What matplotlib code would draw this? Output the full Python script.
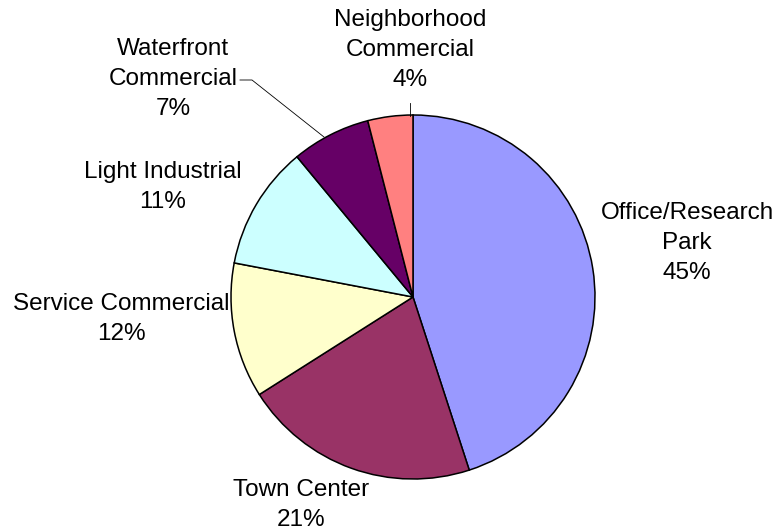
import matplotlib.pyplot as plt

plt.rcParams['font.family'] = ['Liberation Sans', 'DejaVu Sans']

categorias = ["Office/Research\nPark", "Town Center", "Service Commercial",
              "Light Industrial", "Waterfront\nCommercial", "Neighborhood\nCommercial"]
porcentajes = [45, 21, 12, 11, 7, 4]
colores = ["#9999FF", "#993366", "#FFFFCC", "#CCFFFF", "#660066", "#FF8080"]

# posiciones de las etiquetas en pixeles (x, y del centro del bloque)
pos_etiquetas = [(687, 243), (301, 505), (121, 319), (163, 187), (173, 79), (410, 50)]

fig = plt.figure(figsize=(7.77, 5.31), dpi=100)
ax = fig.add_axes([0, 0, 1, 1])

# eje y invertido -> counterclock=True gira en sentido horario en pantalla
ax.pie(porcentajes, colors=colores, center=(413, 297), radius=182,
       startangle=-90, counterclock=True,
       wedgeprops=dict(edgecolor="black", linewidth=1.1))

ax.set_xlim(0, 777)
ax.set_ylim(531, 0)
ax.set_aspect("auto")
ax.axis("off")

for nombre, p, (xt, yt) in zip(categorias, porcentajes, pos_etiquetas):
    ax.text(xt, yt, f"{nombre}\n{p}%", ha="center", va="center",
            fontsize=17.5, linespacing=1.45, color="black")

# lineas guia
ax.plot([240, 252, 324], [80, 80, 137], color="black", linewidth=0.6)
ax.plot([410, 410], [103, 116], color="black", linewidth=0.6)

fig.savefig("out.png", dpi=100)
